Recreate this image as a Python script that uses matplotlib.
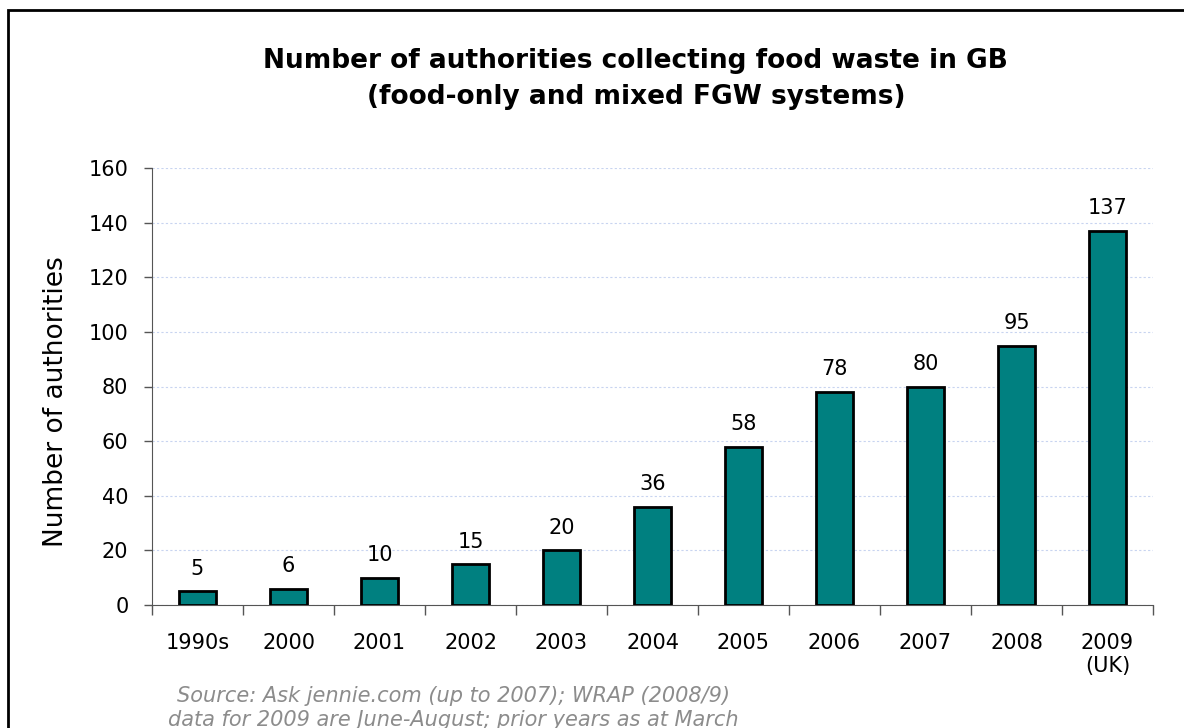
import matplotlib.pyplot as plt
from matplotlib.patches import Rectangle
import numpy as np

# data
years = ['1990s', '2000', '2001', '2002', '2003', '2004', '2005', '2006', '2007', '2008', '2009\n(UK)']
counts = [5, 6, 10, 15, 20, 36, 58, 78, 80, 95, 137]

plt.rcParams['font.family'] = 'DejaVu Sans'

fig = plt.figure(figsize=(11.84, 7.28), dpi=100)
ax = fig.add_axes([152 / 1184, 1 - 605 / 728, (1153 - 152) / 1184, (605 - 168) / 728])

x = np.arange(len(years))
ax.bar(x, counts, width=0.41, color='#008080', edgecolor='black', linewidth=2, zorder=3)

for xi, v in zip(x, counts):
    ax.annotate(str(v), (xi, v), xytext=(0, 9), textcoords='offset points',
                ha='center', va='bottom', fontsize=15)

ax.set_xlim(-0.5, len(years) - 0.5)
ax.set_ylim(0, 160)
ax.set_yticks(range(0, 161, 20))
ax.tick_params(axis='y', labelsize=15, length=6, color='#555555', width=1, pad=11)

# ticks between categories, labels under bars
ax.set_xticks(x)
ax.set_xticklabels(years, fontsize=15)
ax.tick_params(axis='x', length=0, pad=20)
ax.set_xticks(np.arange(-0.5, len(years)), minor=True)
ax.tick_params(axis='x', which='minor', length=7, color='#555555', width=1)

ax.grid(axis='y', color='#c8d4f0', linestyle=(0, (2, 2)), linewidth=0.8, zorder=0)
for s in ['top', 'right']:
    ax.spines[s].set_visible(False)
for s in ['left', 'bottom']:
    ax.spines[s].set_color('#555555')

ax.set_ylabel('Number of authorities', fontsize=19)
ax.yaxis.set_label_coords(-0.083, 0.465)

fig.text(0.537, 1 - 79 / 728, 'Number of authorities collecting food waste in GB\n(food-only and mixed FGW systems)',
         ha='center', va='center', fontsize=19, fontweight='bold', linespacing=1.5)

fig.text(168 / 1184, 1 - 708 / 728,
         'Source: Ask jennie.com (up to 2007); WRAP (2008/9)\ndata for 2009 are June-August; prior years as at March',
         ha='left', va='center', multialignment='center', fontsize=15, style='italic',
         color='#8c8c8c', linespacing=1.2)

# outer chart border (only left and top visible)
fig.patches.append(Rectangle((8 / 1184, -0.1), 1.2, 1 - 10 / 728 + 0.1, transform=fig.transFigure,
                             fill=False, edgecolor='black', linewidth=2))

fig.savefig('out.png', dpi=100)
